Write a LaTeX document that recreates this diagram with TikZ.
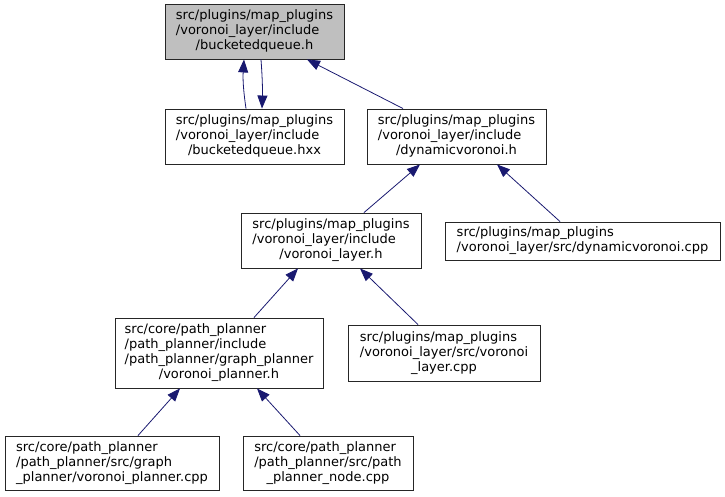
\documentclass[tikz,border=0pt]{standalone}
\usepackage{fontspec}
\setmainfont{DejaVu Sans}
\usepackage{tikz}
\usetikzlibrary{arrows.meta}
\definecolor{edgeblue}{HTML}{191970}
\definecolor{rootgrey}{HTML}{BFBFBF}
% lines left, last line centred (doxygen label)
\newcommand{\fpath}[2]{\begin{tabular}{@{}l@{}}#1\\\multicolumn{1}{@{}c@{}}{#2}\end{tabular}}

\begin{document}
\begin{tikzpicture}[x=1pt, y=-1pt,
    file/.style={draw=black!85, line width=0.9pt, inner sep=0pt,
      font=\fontsize{13}{15}\selectfont},
    dep/.style={edgeblue, line width=0.8pt, {Triangle[length=13pt, width=10pt]}-}]
  \useasboundingbox (0,0) rectangle (725,497);

  \node[file, fill=rootgrey, minimum width=179, minimum height=55] (bq) at (254.5,31.5)
    {\fpath{src/plugins/map\_plugins\\/voronoi\_layer/include}{/bucketedqueue.h}};
  \node[file, minimum width=179, minimum height=55] (hxx) at (254.5,136.5)
    {\fpath{src/plugins/map\_plugins\\/voronoi\_layer/include}{/bucketedqueue.hxx}};
  \node[file, minimum width=179, minimum height=55] (dvh) at (456.5,136.5)
    {\fpath{src/plugins/map\_plugins\\/voronoi\_layer/include}{/dynamicvoronoi.h}};
  \node[file, minimum width=180, minimum height=55] (vlh) at (331,240.5)
    {\fpath{src/plugins/map\_plugins\\/voronoi\_layer/include}{/voronoi\_layer.h}};
  \node[file, minimum width=275, minimum height=38] (dvcpp) at (582.5,241)
    {\fpath{src/plugins/map\_plugins}{/voronoi\_layer/src/dynamicvoronoi.cpp}};
  \node[file, minimum width=208, minimum height=70] (plh) at (219,353)
    {\fpath{src/core/path\_planner\\/path\_planner/include\\/path\_planner/graph\_planner}{/voronoi\_planner.h}};
  \node[file, minimum width=192, minimum height=56] (vlcpp) at (444,353)
    {\fpath{src/plugins/map\_plugins\\/voronoi\_layer/src/voronoi}{\_layer.cpp}};
  \node[file, minimum width=214, minimum height=54] (plcpp) at (112,463)
    {\fpath{src/core/path\_planner\\/path\_planner/src/graph}{\_planner/voronoi\_planner.cpp}};
  \node[file, minimum width=170, minimum height=54] (nodecpp) at (328,463)
    {\fpath{src/core/path\_planner\\/path\_planner/src/path}{\_planner\_node.cpp}};

  % include edges
  \draw[dep] ([xshift=-10.5]bq.south) to[bend right=6] ([xshift=-8.5]hxx.north);
  \draw[edgeblue, line width=0.8pt, -{Triangle[length=13pt, width=10pt]}]
    ([xshift=6.5]bq.south) to[bend left=3] ([xshift=7.5]hxx.north);
  \draw[dep] ([xshift=52.5]bq.south) -- ([xshift=-53.5]dvh.north);
  \draw[dep] ([xshift=-36.5]dvh.south) -- ([xshift=33]vlh.north);
  \draw[dep] ([xshift=40.5]dvh.south) -- ([xshift=-22.5]dvcpp.north);
  \draw[dep] ([xshift=-33]vlh.south) -- ([xshift=35]plh.north);
  \draw[dep] ([xshift=29]vlh.south) -- ([xshift=-26]vlcpp.north);
  \draw[dep] ([xshift=-39]plh.south) -- ([xshift=26]plcpp.north);
  \draw[dep] ([xshift=38]plh.south) -- ([xshift=-28]nodecpp.north);
\end{tikzpicture}
\end{document}
